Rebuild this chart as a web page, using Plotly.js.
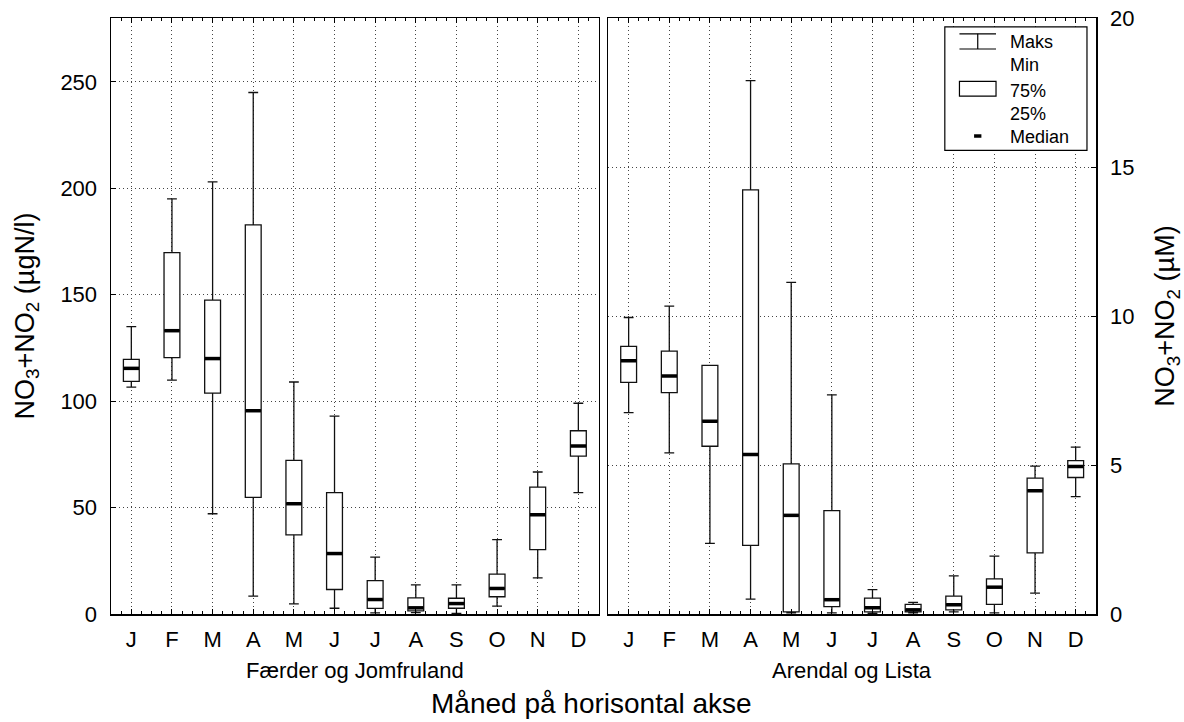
<!DOCTYPE html>
<html>
<head>
<meta charset="utf-8">
<script src="https://cdn.plot.ly/plotly-3.0.1.min.js"></script>
<style>html,body{margin:0;padding:0;background:#fff;}#chart{width:1184px;height:722px;}</style>
</head>
<body>
<div id="chart"></div>
<script>
// Month labels
const months = ['J','F','M','A','M','J','J','A','S','O','N','D'];

// Færder og Jomfruland (µgN/l)
const leftMax    = [135, 195, 203, 245, 109, 93, 26.7, 13.7, 13.7, 34.9, 66.7, 99];
const leftQ3     = [119.6, 169.8, 147.5, 182.8, 72.2, 57, 15.7, 7.6, 7.4, 18.7, 59.6, 86.1];
const leftMedian = [115.4, 133.1, 120, 95.5, 51.8, 28.4, 6.8, 2.9, 4.9, 12, 46.6, 78.9];
const leftQ1     = [109.3, 120.4, 103.8, 54.8, 37.2, 11.5, 2.6, 1.5, 2.7, 8.1, 30.2, 74.2];
const leftMin    = [106.6, 109.9, 47.1, 8.4, 4.8, 2.7, 0.5, 0.6, 0.3, 3.7, 17, 57];

// Arendal og Lista (µM)
const rightMax    = [9.95, 10.33, 8.34, 17.9, 11.13, 7.35, 0.82, 0.39, 1.28, 1.94, 4.96, 5.6];
const rightQ3     = [8.98, 8.82, 8.34, 14.23, 5.04, 3.47, 0.53, 0.32, 0.6, 1.18, 4.56, 5.15];
const rightMedian = [8.5, 7.99, 6.47, 5.35, 3.31, 0.48, 0.21, 0.14, 0.31, 0.9, 4.14, 4.95];
const rightQ1     = [7.77, 7.43, 5.63, 2.3, 0.07, 0.25, 0.07, 0.07, 0.14, 0.32, 2.05, 4.58];
const rightMin    = [6.76, 5.41, 2.37, 0.5, 0.04, 0.04, 0.02, 0.04, 0.07, 0.04, 0.7, 3.94];

// Legend labels
const legendWhisker = 'Maks<br>Min';
const legendBox = '75%<br>25%';
const legendMedian = 'Median';

const pos = months.map((m, i) => i);

const boxStyle = {
  type: 'box', boxpoints: false, width: 0.39, whiskerwidth: 0.62,
  line: {color: '#111', width: 1.3}, fillcolor: '#fff', showlegend: false, hoverinfo: 'skip'
};
const medStyle = {
  type: 'scatter', mode: 'markers', showlegend: false, hoverinfo: 'skip',
  marker: {symbol: 'line-ew', size: 11, color: '#000', line: {color: '#000', width: 3.5}}
};

const traces = [
  Object.assign({}, boxStyle, {x: pos, q1: leftQ1, median: leftMedian, q3: leftQ3, lowerfence: leftMin, upperfence: leftMax, xaxis: 'x', yaxis: 'y'}),
  Object.assign({}, medStyle, {x: pos, y: leftMedian, xaxis: 'x', yaxis: 'y'}),
  Object.assign({}, boxStyle, {x: pos, q1: rightQ1, median: rightMedian, q3: rightQ3, lowerfence: rightMin, upperfence: rightMax, xaxis: 'x2', yaxis: 'y2'}),
  Object.assign({}, medStyle, {x: pos, y: rightMedian, xaxis: 'x2', yaxis: 'y2'})
];

const FAM = '"Liberation Sans", Arial, sans-serif';
const font = {family: FAM, size: 22, color: '#000'};
const legFont = {family: FAM, size: 18, color: '#000'};
const gridStyle = {showgrid: true, gridcolor: '#444', gridwidth: 1, griddash: '1px,3px'};

function xAxis(domain, anchor) {
  return Object.assign({
    domain: domain, anchor: anchor, range: [-0.5, 11.5], zeroline: false,
    tickmode: 'array', tickvals: pos, ticktext: months,
    ticks: 'inside', ticklen: 5, tickcolor: '#000', tickwidth: 1,
    minor: {dtick: 0.25, tick0: 0, ticks: 'inside', ticklen: 3, tickcolor: '#000', showgrid: false},
    showline: true, linecolor: '#000', linewidth: 1.5, mirror: 'ticks',
    ticklabelstandoff: 5, tickfont: {family: FAM, size: 22, color: '#000'}
  }, gridStyle);
}

const layout = {
  width: 1184, height: 722,
  margin: {l: 111, r: 88, t: 18, b: 108},
  paper_bgcolor: '#fff', plot_bgcolor: '#fff',
  font: font,
  showlegend: false,
  xaxis: xAxis([0, 0.4951], 'y'),
  xaxis2: xAxis([0.5049, 1], 'y2'),
  yaxis: Object.assign({
    domain: [0, 1], anchor: 'x', range: [0, 280], tick0: 0, dtick: 50, zeroline: false,
    ticks: 'inside', ticklen: 5, tickcolor: '#000',
    showline: true, linecolor: '#000', linewidth: 1.5, mirror: true,
    ticklabelstandoff: 8, tickfont: {family: FAM, size: 22, color: '#000'},
    title: {text: 'NO<sub>3</sub>+NO<sub>2</sub> (µgN/l)', font: {family: FAM, size: 27, color: '#000'}, standoff: 18}
  }, gridStyle),
  yaxis2: Object.assign({
    domain: [0, 1], anchor: 'x2', side: 'right', range: [0, 20], tick0: 0, dtick: 5, zeroline: false,
    ticks: 'inside', ticklen: 5, tickcolor: '#000',
    showline: true, linecolor: '#000', linewidth: 1.5, mirror: true,
    ticklabelstandoff: 8, tickfont: {family: FAM, size: 22, color: '#000'},
    title: {text: 'NO<sub>3</sub>+NO<sub>2</sub> (µM)', font: {family: FAM, size: 27, color: '#000'}, standoff: 22}
  }, gridStyle),
  annotations: [
    {text: 'Færder og Jomfruland', xref: 'x domain', yref: 'paper', x: 0.5, y: -0.0956, yanchor: 'middle', xanchor: 'center', showarrow: false, font: font},
    {text: 'Arendal og Lista', xref: 'x2 domain', yref: 'paper', x: 0.5, y: -0.0956, yanchor: 'middle', xanchor: 'center', showarrow: false, font: font},
    {text: 'Måned på horisontal akse', xref: 'paper', yref: 'paper', x: 0.488, y: -0.1785, yanchor: 'bottom', xanchor: 'center', showarrow: false, borderpad: 0, font: {family: FAM, size: 28, color: '#000'}},
    // legend text
    {text: legendWhisker, xref: 'x2 domain', yref: 'y2 domain', x: 0.8216, y: 0.9396, xanchor: 'left', yanchor: 'middle', align: 'left', showarrow: false, font: legFont, borderpad: 0},
    {text: legendBox, xref: 'x2 domain', yref: 'y2 domain', x: 0.8216, y: 0.859, xanchor: 'left', yanchor: 'middle', align: 'left', showarrow: false, font: legFont, borderpad: 0},
    {text: legendMedian, xref: 'x2 domain', yref: 'y2 domain', x: 0.8216, y: 0.7995, xanchor: 'left', yanchor: 'middle', align: 'left', showarrow: false, font: legFont, borderpad: 0}
  ],
  shapes: [
    // legend frame
    {type: 'rect', xref: 'x2 domain', yref: 'y2 domain', x0: 0.690, x1: 0.9815, y0: 0.778, y1: 0.985, line: {color: '#000', width: 1.2}, fillcolor: '#fff', layer: 'above'},
    // whisker glyph
    {type: 'line', xref: 'x2 domain', yref: 'y2 domain', x0: 0.720, x1: 0.795, y0: 0.9735, y1: 0.9735, line: {color: '#000', width: 1.2}},
    {type: 'line', xref: 'x2 domain', yref: 'y2 domain', x0: 0.720, x1: 0.795, y0: 0.9480, y1: 0.9480, line: {color: '#000', width: 1.2}},
    {type: 'line', xref: 'x2 domain', yref: 'y2 domain', x0: 0.7575, x1: 0.7575, y0: 0.9480, y1: 0.9735, line: {color: '#000', width: 1.2}},
    // box glyph
    {type: 'rect', xref: 'x2 domain', yref: 'y2 domain', x0: 0.720, x1: 0.795, y0: 0.869, y1: 0.8935, line: {color: '#000', width: 1.2}, fillcolor: '#fff'},
    // median glyph
    {type: 'line', xref: 'x2 domain', yref: 'y2 domain', x0: 0.750, x1: 0.765, y0: 0.802, y1: 0.802, line: {color: '#000', width: 3.5}}
  ]
};

Plotly.newPlot('chart', traces, layout, {displayModeBar: false, staticPlot: true});
</script>
</body>
</html>
